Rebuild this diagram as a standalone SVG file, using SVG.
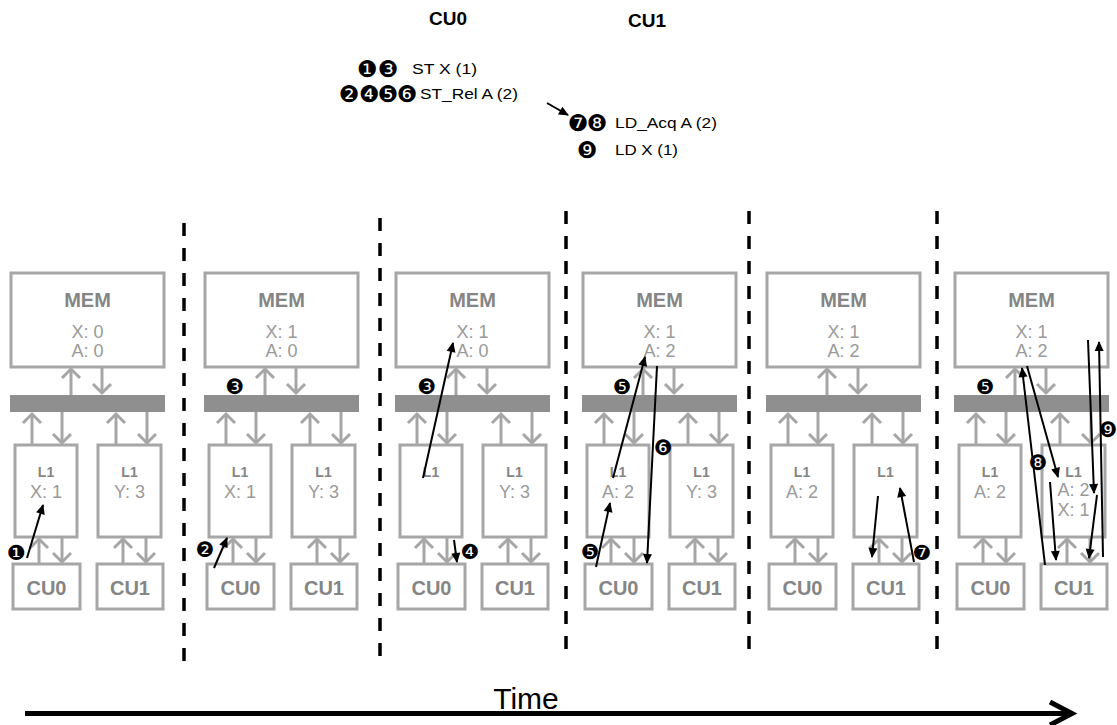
<svg xmlns="http://www.w3.org/2000/svg" width="1117" height="725" viewBox="0 0 1117 725">
<style>
.box{fill:#fff;stroke:#a6a6a6;stroke-width:3}
.bus{fill:#8f8f8f}
.ttl{font-family:"Liberation Sans",Arial,sans-serif;font-weight:bold;fill:#858585;text-anchor:middle}
.mem{font-size:20px}
.cu{font-size:20px}
.l1{font-size:14px}
.val{font-family:"Liberation Sans",Arial,sans-serif;font-size:18px;fill:#9a9a9a;text-anchor:middle}
.ga{stroke:#a6a6a6;stroke-width:3;fill:none;marker-end:url(#gh)}
.ba{stroke:#000;stroke-width:2;fill:none;marker-end:url(#bh)}
.num{font-family:"DejaVu Sans",sans-serif;font-size:21px;fill:#000;text-anchor:middle}
.big{font-size:23px}
.top{font-family:"Liberation Sans",Arial,sans-serif;font-size:15px;fill:#000}
.head{font-family:"Liberation Sans",Arial,sans-serif;font-size:19px;font-weight:bold;fill:#000;text-anchor:middle}
.dash{stroke:#000;stroke-width:3.5;stroke-dasharray:13 12}
</style>
<defs>
<marker id="gh" markerUnits="userSpaceOnUse" markerWidth="24" markerHeight="24" viewBox="-12 -12 24 24" refX="0" refY="0" orient="auto" overflow="visible">
<path d="M-9,-9 L0,0 L-9,9" fill="none" stroke="#a6a6a6" stroke-width="3"/>
</marker>
<marker id="bh" markerUnits="userSpaceOnUse" markerWidth="24" markerHeight="24" viewBox="-12 -12 24 24" refX="0" refY="0" orient="auto" overflow="visible">
<path d="M-9,-4.5 L1,0 L-9,4.5 Z" fill="#000"/>
</marker>
<g id="panelGray">
<path class="ga" d="M71,395 V369"/>
<path class="ga" d="M102,367 V393"/>
<path class="ga" d="M32,445 V414"/>
<path class="ga" d="M62,412 V443"/>
<path class="ga" d="M116,445 V414"/>
<path class="ga" d="M147,412 V443"/>
<path class="ga" d="M39,564 V539"/>
<path class="ga" d="M62,537 V562"/>
<path class="ga" d="M123,564 V539"/>
<path class="ga" d="M146,537 V562"/>
</g>
</defs>
<rect width="1117" height="725" fill="#fff"/>

<g id="legend">
<text class="head" x="448" y="25">CU0</text>
<text class="head" x="647" y="27">CU1</text>
<text class="num big" x="367" y="77">❶</text>
<text class="num big" x="388" y="77">❸</text>
<text class="top" x="412" y="74" textLength="65" lengthAdjust="spacingAndGlyphs">ST X (1)</text>
<text class="num big" x="349" y="102">❷</text>
<text class="num big" x="369" y="102">❹</text>
<text class="num big" x="388" y="102">❺</text>
<text class="num big" x="407" y="102">❻</text>
<text class="top" x="420" y="99" textLength="98" lengthAdjust="spacingAndGlyphs">ST_Rel A (2)</text>
<text class="num big" x="578" y="131">❼</text>
<text class="num big" x="597" y="131">❽</text>
<text class="top" x="615" y="128" textLength="102" lengthAdjust="spacingAndGlyphs">LD_Acq A (2)</text>
<text class="num big" x="587" y="158">❾</text>
<text class="top" x="615" y="155" textLength="63" lengthAdjust="spacingAndGlyphs">LD X (1)</text>
</g>

<g id="dividers">
<line class="dash" x1="184" y1="223" x2="184" y2="668"/>
<line class="dash" x1="380" y1="218" x2="380" y2="663"/>
<line class="dash" x1="566" y1="211" x2="566" y2="655"/>
<line class="dash" x1="749" y1="211" x2="749" y2="655"/>
<line class="dash" x1="937" y1="211" x2="937" y2="655"/>
</g>

<g id="panel1">
<g id="p1-mem"><rect class="box" x="11" y="273" width="153" height="94"/><text class="ttl mem" x="87.5" y="307">MEM</text><text class="val" x="87.5" y="338">X: 0</text><text class="val" x="87.5" y="357">A: 0</text></g>
<g id="p1-bus"><rect class="bus" x="10" y="395" width="155" height="17"/></g>
<g id="p1-l1a"><rect class="box" x="15" y="445" width="62" height="92"/><text class="ttl l1" x="46" y="477">L1</text><text class="val" x="46" y="498">X: 1</text></g>
<g id="p1-l1b"><rect class="box" x="98" y="445" width="63" height="92"/><text class="ttl l1" x="129.5" y="477">L1</text><text class="val" x="129.5" y="498">Y: 3</text></g>
<g id="p1-cu0"><rect class="box" x="13" y="564" width="67" height="45"/><text class="ttl cu" x="46.5" y="595">CU0</text></g>
<g id="p1-cu1"><rect class="box" x="97" y="564" width="66" height="45"/><text class="ttl cu" x="130" y="595">CU1</text></g>
</g>

<g id="panel2" transform="translate(194,0)">
<g id="p2-mem"><rect class="box" x="11" y="273" width="153" height="94"/><text class="ttl mem" x="87.5" y="307">MEM</text><text class="val" x="87.5" y="338">X: 1</text><text class="val" x="87.5" y="357">A: 0</text></g>
<g id="p2-bus"><rect class="bus" x="10" y="395" width="155" height="17"/></g>
<g id="p2-l1a"><rect class="box" x="15" y="445" width="62" height="92"/><text class="ttl l1" x="46" y="477">L1</text><text class="val" x="46" y="498">X: 1</text></g>
<g id="p2-l1b"><rect class="box" x="98" y="445" width="63" height="92"/><text class="ttl l1" x="129.5" y="477">L1</text><text class="val" x="129.5" y="498">Y: 3</text></g>
<g id="p2-cu0"><rect class="box" x="13" y="564" width="67" height="45"/><text class="ttl cu" x="46.5" y="595">CU0</text></g>
<g id="p2-cu1"><rect class="box" x="97" y="564" width="66" height="45"/><text class="ttl cu" x="130" y="595">CU1</text></g>
</g>

<g id="panel3" transform="translate(385,0)">
<g id="p3-mem"><rect class="box" x="11" y="273" width="153" height="94"/><text class="ttl mem" x="87.5" y="307">MEM</text><text class="val" x="87.5" y="338">X: 1</text><text class="val" x="87.5" y="357">A: 0</text></g>
<g id="p3-bus"><rect class="bus" x="10" y="395" width="155" height="17"/></g>
<g id="p3-l1a"><rect class="box" x="15" y="445" width="62" height="92"/><text class="ttl l1" x="46" y="477">L1</text></g>
<g id="p3-l1b"><rect class="box" x="98" y="445" width="63" height="92"/><text class="ttl l1" x="129.5" y="477">L1</text><text class="val" x="129.5" y="498">Y: 3</text></g>
<g id="p3-cu0"><rect class="box" x="13" y="564" width="67" height="45"/><text class="ttl cu" x="46.5" y="595">CU0</text></g>
<g id="p3-cu1"><rect class="box" x="97" y="564" width="66" height="45"/><text class="ttl cu" x="130" y="595">CU1</text></g>
</g>

<g id="panel4" transform="translate(572,0)">
<g id="p4-mem"><rect class="box" x="11" y="273" width="153" height="94"/><text class="ttl mem" x="87.5" y="307">MEM</text><text class="val" x="87.5" y="338">X: 1</text><text class="val" x="87.5" y="357">A: 2</text></g>
<g id="p4-bus"><rect class="bus" x="10" y="395" width="155" height="17"/></g>
<g id="p4-l1a"><rect class="box" x="15" y="445" width="62" height="92"/><text class="ttl l1" x="46" y="477">L1</text><text class="val" x="46" y="498">A: 2</text></g>
<g id="p4-l1b"><rect class="box" x="98" y="445" width="63" height="92"/><text class="ttl l1" x="129.5" y="477">L1</text><text class="val" x="129.5" y="498">Y: 3</text></g>
<g id="p4-cu0"><rect class="box" x="13" y="564" width="67" height="45"/><text class="ttl cu" x="46.5" y="595">CU0</text></g>
<g id="p4-cu1"><rect class="box" x="97" y="564" width="66" height="45"/><text class="ttl cu" x="130" y="595">CU1</text></g>
</g>

<g id="panel5" transform="translate(756,0)">
<g id="p5-mem"><rect class="box" x="11" y="273" width="153" height="94"/><text class="ttl mem" x="87.5" y="307">MEM</text><text class="val" x="87.5" y="338">X: 1</text><text class="val" x="87.5" y="357">A: 2</text></g>
<g id="p5-bus"><rect class="bus" x="10" y="395" width="155" height="17"/></g>
<g id="p5-l1a"><rect class="box" x="15" y="445" width="62" height="92"/><text class="ttl l1" x="46" y="477">L1</text><text class="val" x="46" y="498">A: 2</text></g>
<g id="p5-l1b"><rect class="box" x="98" y="445" width="63" height="92"/><text class="ttl l1" x="129.5" y="477">L1</text></g>
<g id="p5-cu0"><rect class="box" x="13" y="564" width="67" height="45"/><text class="ttl cu" x="46.5" y="595">CU0</text></g>
<g id="p5-cu1"><rect class="box" x="97" y="564" width="66" height="45"/><text class="ttl cu" x="130" y="595">CU1</text></g>
</g>

<g id="panel6" transform="translate(944,0)">
<g id="p6-mem"><rect class="box" x="11" y="273" width="153" height="94"/><text class="ttl mem" x="87.5" y="307">MEM</text><text class="val" x="87.5" y="338">X: 1</text><text class="val" x="87.5" y="357">A: 2</text></g>
<g id="p6-bus"><rect class="bus" x="10" y="395" width="155" height="17"/></g>
<g id="p6-l1a"><rect class="box" x="15" y="445" width="62" height="92"/><text class="ttl l1" x="46" y="477">L1</text><text class="val" x="46" y="498">A: 2</text></g>
<g id="p6-l1b"><rect class="box" x="98" y="445" width="63" height="92"/><text class="ttl l1" x="129.5" y="477">L1</text><text class="val" x="129.5" y="496">A: 2</text><text class="val" x="129.5" y="516">X: 1</text></g>
<g id="p6-cu0"><rect class="box" x="13" y="564" width="67" height="45"/><text class="ttl cu" x="46.5" y="595">CU0</text></g>
<g id="p6-cu1"><rect class="box" x="97" y="564" width="66" height="45"/><text class="ttl cu" x="130" y="595">CU1</text></g>
</g>

<g id="connectors">
<use href="#panelGray"/>
<use href="#panelGray" transform="translate(194,0)"/>
<use href="#panelGray" transform="translate(385,0)"/>
<use href="#panelGray" transform="translate(572,0)"/>
<use href="#panelGray" transform="translate(756,0)"/>
<use href="#panelGray" transform="translate(944,0)"/>
<line class="ba" x1="547" y1="103" x2="568" y2="115"/>
<line class="ba" x1="27" y1="558" x2="43" y2="505"/>
<line class="ba" x1="214" y1="568" x2="227" y2="538"/>
<line class="ba" x1="423" y1="478" x2="453" y2="343"/>
<line class="ba" x1="454" y1="540" x2="457" y2="562"/>
<line class="ba" x1="596" y1="567" x2="610" y2="503"/>
<line class="ba" x1="613" y1="478" x2="645" y2="357"/>
<line class="ba" x1="657" y1="366" x2="647" y2="563"/>
<line class="ba" x1="878" y1="496" x2="872" y2="557"/>
<line class="ba" x1="914" y1="562" x2="900" y2="488"/>
<line class="ba" x1="1045" y1="565" x2="1022" y2="368"/>
<line class="ba" x1="1027" y1="366" x2="1058" y2="477"/>
<line class="ba" x1="1050" y1="482" x2="1056" y2="560"/>
<line class="ba" x1="1088" y1="340" x2="1094" y2="493"/>
<line class="ba" x1="1097" y1="495" x2="1089" y2="558"/>
<line class="ba" x1="1103" y1="557" x2="1099" y2="342"/>
</g>

<g id="steps">
<text class="num" x="16" y="560">❶</text>
<text class="num" x="205" y="557">❷</text>
<text class="num" x="235" y="394">❸</text>
<text class="num" x="427" y="394">❸</text>
<text class="num" x="470" y="559">❹</text>
<text class="num" x="590" y="559">❺</text>
<text class="num" x="622" y="394">❺</text>
<text class="num" x="663" y="455">❻</text>
<text class="num" x="922" y="560">❼</text>
<text class="num" x="985" y="394">❺</text>
<text class="num" x="1038" y="470">❽</text>
<text class="num" x="1108" y="437">❾</text>
</g>

<g id="timeline">
<line x1="25" y1="713.5" x2="1070" y2="713.5" stroke="#000" stroke-width="5"/>
<path d="M1050,702 L1072,713.5 L1050,725" fill="none" stroke="#000" stroke-width="5"/>
<text x="526" y="709" font-family="'Liberation Sans',Arial,sans-serif" font-size="30" text-anchor="middle">Time</text>
</g>
</svg>
